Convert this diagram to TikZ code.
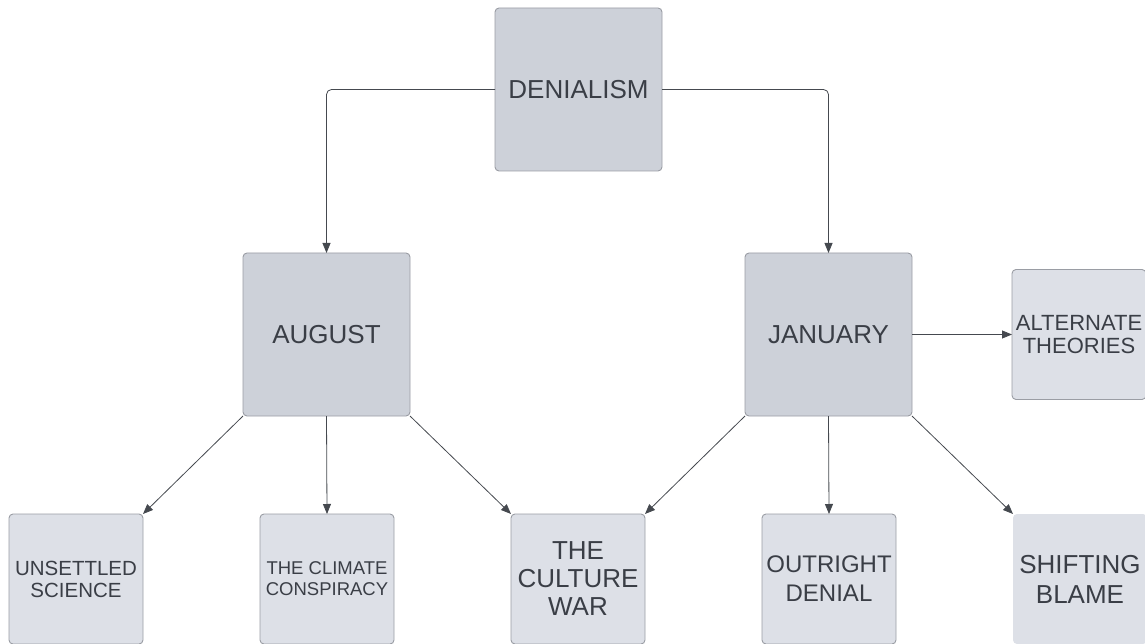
\documentclass[tikz,border=0pt]{standalone}
\usepackage{fontspec}
\setmainfont{Liberation Sans}
\usetikzlibrary{arrows.meta}
\definecolor{boxdark}{HTML}{CDD1D9}
\definecolor{boxlight}{HTML}{DDE0E7}
\definecolor{edgegray}{HTML}{9A9DA4}
\definecolor{inkgray}{HTML}{3A3E46}
\definecolor{wiregray}{HTML}{45494F}
\tikzset{
  base/.style={rectangle, rounded corners=4pt, draw=edgegray, line width=0.9pt,
    align=center, text=inkgray, inner sep=0pt, outer sep=0pt},
  mainbox/.style={base, fill=boxdark, minimum width=167pt, minimum height=163pt,
    font=\fontsize{26}{30}\selectfont},
  leafbox/.style={base, fill=boxlight, minimum width=134pt, minimum height=130pt},
  wire/.style={draw=wiregray, line width=0.8pt, rounded corners=5pt,
    -{Triangle[length=10pt,width=8pt]}}
}
\begin{document}
\begin{tikzpicture}[x=1pt,y=-1pt]
\useasboundingbox (0,0) rectangle (1145,644);
% upper tiers
\node[mainbox] (den) at (578.5,89.5) {DENIALISM};
\node[mainbox] (aug) at (326.5,334.5) {AUGUST};
\node[mainbox] (jan) at (828.5,334.5) {JANUARY};
% leaves
\node[leafbox, font=\fontsize{22}{23}\selectfont] (alt) at (1079,334.5) {ALTERNATE\\THEORIES};
\node[leafbox, font=\fontsize{20.5}{22}\selectfont] (uns) at (76,579) {UNSETTLED\\SCIENCE};
\node[leafbox, font=\fontsize{18.5}{21}\selectfont] (cli) at (327,579) {THE CLIMATE\\CONSPIRACY};
\node[leafbox, font=\fontsize{26}{28}\selectfont] (cul) at (578,579) {THE\\CULTURE\\WAR};
\node[leafbox, font=\fontsize{24}{29}\selectfont] (out) at (829,579) {OUTRIGHT\\DENIAL};
\node[leafbox, draw=none, font=\fontsize{26}{30}\selectfont] (shi) at (1080,579) {SHIFTING\\BLAME};
% connectors
\draw[wire] (den.west) -| (aug.north);
\draw[wire] (den.east) -| (jan.north);
\draw[wire] (aug.south west) -- (uns.north east);
\draw[wire] (aug.south) -- (cli.north);
\draw[wire] (aug.south east) -- (cul.north west);
\draw[wire] (jan.south west) -- (cul.north east);
\draw[wire] (jan.south) -- (out.north);
\draw[wire] (jan.south east) -- (shi.north west);
\draw[wire] (jan.east) -- (alt.west);
\end{tikzpicture}
\end{document}
